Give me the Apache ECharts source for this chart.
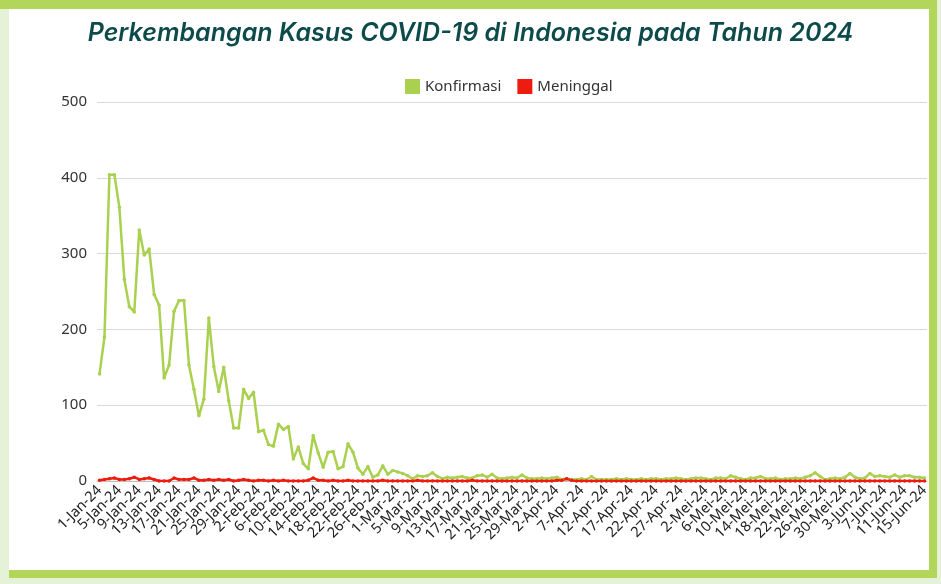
<!DOCTYPE html>
<html>
<head>
<meta charset="utf-8">
<script src="https://cdn.jsdelivr.net/npm/echarts@6/dist/echarts.min.js"></script>
<style>
  html, body { margin: 0; padding: 0; }
  body { width: 941px; height: 584px; background: #e6f2d8; position: relative; overflow: hidden; }
  .frame {
    position: absolute; left: 9px; top: 0; width: 920px; height: 561px;
    background: #fff;
    border-top: 9px solid #b1d65a;
    border-right: 8px solid #b1d65a;
    border-bottom: 8px solid #b1d65a;
  }
  .topband { position: absolute; left: 0; top: 0; width: 9px; height: 9px; background: #b1d65a; }
  #chart { position: absolute; left: 0; top: 0; width: 941px; height: 584px; }
</style>
</head>
<body>
<div class="frame"></div>
<div class="topband"></div>
<div id="chart"></div>
<script>
const monthNames = ['Jan', 'Feb', 'Mar', 'Apr', 'Mei', 'Jun']
const monthDays = [31, 29, 31, 30, 31, 15]

const categories = []
monthNames.forEach((m, i) => {
  for (let d = 1; d <= monthDays[i]; d++) categories.push(d + '-' + m + '-24')
})

// labels shown on the axis (as in the source chart)
const shownLabels = [
  '1-Jan-24', '5-Jan-24', '9-Jan-24', '13-Jan-24', '17-Jan-24', '21-Jan-24', '25-Jan-24', '29-Jan-24',
  '2-Feb-24', '6-Feb-24', '10-Feb-24', '14-Feb-24', '18-Feb-24', '22-Feb-24', '26-Feb-24',
  '1-Mar-24', '5-Mar-24', '9-Mar-24', '13-Mar-24', '17-Mar-24', '21-Mar-24', '25-Mar-24', '29-Mar-24',
  '2-Apr-24', '7-Apr-24', '12-Apr-24', '17-Apr-24', '22-Apr-24', '27-Apr-24',
  '2-Mei-24', '6-Mei-24', '10-Mei-24', '14-Mei-24', '18-Mei-24', '22-Mei-24', '26-Mei-24', '30-Mei-24',
  '3-Jun-24', '7-Jun-24', '11-Jun-24', '15-Jun-24'
]

const konfirmasi = [
  141, 190, 404, 404, 361, 266, 230, 223, 331, 298, 306, 246, 232, 136, 153, 224, 238, 238, 153, 121,
  86, 108, 215, 151, 118, 150, 106, 70, 70, 121, 109, 117, 65, 67, 48,
  46, 75, 68, 72, 29, 45, 23, 16, 60, 37, 18, 38, 39, 16, 19, 49, 38, 17, 9, 19,
  5, 8, 20, 9, 14, 12, 10, 7, 3, 7, 6, 7, 11, 6, 3,
  5, 4, 5, 6, 4, 4, 7, 8, 5, 9, 4, 3, 4, 5, 4, 8, 4, 3, 3, 4,
  3, 4, 5, 2, 3, 2, 2, 3, 2, 6, 2, 2, 2, 2, 3, 2, 3, 2, 2, 3,
  2, 3, 3, 2, 3, 3, 4, 3, 2, 3, 4, 4, 3, 2, 4, 4, 3, 7, 5, 3,
  2, 4, 4, 6, 3, 3, 4, 2, 3, 3, 4, 3, 5, 7, 11, 6, 2, 3, 4, 3,
  5, 10, 5, 3, 4, 10, 6, 7, 6, 5, 8, 5, 7, 7, 5, 5, 4
]

const meninggal = [
  1, 2, 3, 4, 2, 2, 3, 5, 2, 3, 4, 2, 0, 0, 0, 4, 2, 2, 2, 4,
  1, 1, 2, 1, 2, 1, 2, 0, 1, 2, 1, 0, 1, 1, 0,
  1, 0, 1, 0, 0, 0, 0, 1, 4, 1, 1, 0, 1, 0, 0, 1, 0, 0, 0, 0,
  0, 0, 1, 0, 0, 0, 0, 0, 0, 1, 0, 0, 0, 0, 0,
  0, 0, 0, 0, 0, 1, 0, 0, 0, 0, 0, 0, 0, 0, 0, 0, 0, 0, 0, 0,
  0, 0, 1, 1, 3, 1, 0, 0, 0, 0, 0, 0, 0, 0, 0, 0, 0, 0, 0, 0,
  0, 0, 0, 0, 0, 0, 0, 0, 0, 0, 0, 0, 0, 0, 0, 0, 0, 0, 0, 0,
  0, 0, 0, 0, 0, 0, 0, 0, 0, 0, 0, 0, 0, 0, 0, 0, 0, 0, 0, 0,
  0, 0, 0, 0, 0, 0, 0, 0, 0, 0, 0, 0, 0, 0, 0, 0, 0
]

const yTicks = { min: 0, max: 500, interval: 100 }

const chart = echarts.init(document.getElementById('chart'))
chart.setOption({
  animation: false,
  title: {
    text: 'Perkembangan Kasus COVID-19 di Indonesia pada Tahun 2024',
    left: 'center',
    top: 16,
    textStyle: {
      fontFamily: 'Inter',
      fontStyle: 'italic',
      fontWeight: 600,
      fontSize: 25,
      color: '#0d4b4b'
    }
  },
  legend: {
    top: 74,
    left: 400,
    icon: 'rect',
    itemWidth: 15,
    itemHeight: 15,
    itemGap: 16,
    textStyle: { fontFamily: 'Noto Sans', fontSize: 15, color: '#333' },
    data: ['Konfirmasi', 'Meninggal']
  },
  grid: {
    left: 97,
    right: 14,
    top: 102,
    bottom: 103,
    containLabel: false
  },
  xAxis: {
    type: 'category',
    data: categories,
    boundaryGap: true,
    axisLine: { lineStyle: { color: '#bfbfbf', width: 1 } },
    axisTick: { show: false },
    axisLabel: {
      rotate: 45,
      interval: 0,
      formatter: val => (shownLabels.includes(val) ? val : ''),
      hideOverlap: false,
      fontFamily: 'Noto Sans',
      fontSize: 14.5,
      color: '#222',
      margin: 7
    }
  },
  yAxis: {
    type: 'value',
    min: yTicks.min,
    max: yTicks.max,
    interval: yTicks.interval,
    axisLine: { show: false },
    axisTick: { show: false },
    splitLine: { lineStyle: { color: '#d9d9d9', width: 1 } },
    axisLabel: {
      fontFamily: 'Noto Sans',
      fontSize: 15,
      color: '#333',
      margin: 10
    }
  },
  series: [
    {
      name: 'Konfirmasi',
      type: 'line',
      data: konfirmasi,
      symbol: 'circle',
      symbolSize: 3.5,
      color: '#a9d04f',
      lineStyle: { width: 2.5, color: '#a9d04f' },
      itemStyle: { color: '#a9d04f' }
    },
    {
      name: 'Meninggal',
      type: 'line',
      data: meninggal,
      symbol: 'circle',
      symbolSize: 3.5,
      color: '#ee1c0e',
      lineStyle: { width: 2.5, color: '#ee1c0e' },
      itemStyle: { color: '#ee1c0e' }
    }
  ]
})
</script>
</body>
</html>
